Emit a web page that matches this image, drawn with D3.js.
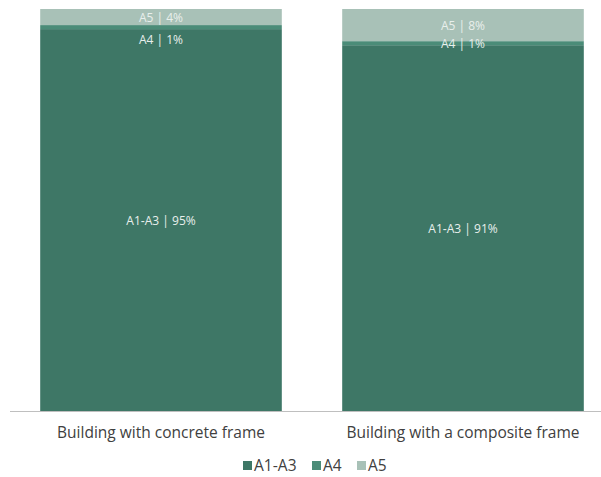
<!DOCTYPE html>
<html><head><meta charset="utf-8">
<script src="https://cdn.jsdelivr.net/npm/d3@7"></script>
<style>body{margin:0;background:#fff}svg{display:block}</style>
</head><body>
<svg id="c" width="601" height="477"></svg>
<script>
const categories = ["Building with concrete frame", "Building with a composite frame"];
const seriesNames = ["A1-A3", "A4", "A5"];
const seriesLabels = ["A1‐A3", "A4", "A5"];
const a1a3 = [95, 91];
const a4 = [1, 1];
const a5 = [4, 8];
const colors = ["#3e7766", "#4b8c78", "#a8c1b7"];

const svg = d3.select("#c");
const font = "'Open Sans', sans-serif";
const x = d3.scaleBand().domain(categories).range([10, 614]).paddingInner(0.2).paddingOuter(0.1);
const y = d3.scaleLinear().domain([0, 100]).range([411, 9]);

const rows = categories.map((c, i) => ({cat: c, "A1-A3": a1a3[i], "A4": a4[i], "A5": a5[i]}));
const stack = d3.stack().keys(seriesNames)(rows);

const g = svg.append("g");
stack.forEach((s, si) => {
  g.selectAll(null).data(s).enter().append("rect")
    .attr("x", d => x(d.data.cat))
    .attr("width", x.bandwidth())
    .attr("y", d => y(d[1]))
    .attr("height", d => y(d[0]) - y(d[1]))
    .attr("fill", colors[si]);
});

// labels: top-down, avoid collisions
categories.forEach((c, ci) => {
  let prev = -Infinity;
  for (let si = seriesNames.length - 1; si >= 0; si--) {
    const d = stack[si][ci];
    let cy = (y(d[0]) + y(d[1])) / 2 + 1;
    if (cy - prev < 16) cy = prev + 22;
    prev = cy;
    svg.append("text")
      .attr("x", x(c) + x.bandwidth() / 2)
      .attr("y", cy)
      .attr("dy", "0.35em")
      .attr("text-anchor", "middle")
      .attr("font-family", font)
      .attr("font-size", 12)
      .attr("fill", "#e8efec")
      .text(seriesLabels[si] + " | " + (d[1] - d[0]) + "%");
  }
});

// axis
const axis = svg.append("g").attr("transform", "translate(0,411)")
  .call(d3.axisBottom(x).tickSize(0).tickPadding(16));
axis.select(".domain").attr("stroke", "#bfbfbf").attr("d", "M10,0.5H601");
axis.selectAll("text").attr("font-family", font).attr("font-size", 15.5).attr("fill", "#404040");

// legend
const legendX = [243, 312, 357];
const lg = svg.append("g");
seriesNames.forEach((n, i) => {
  lg.append("rect").attr("x", legendX[i]).attr("y", 461).attr("width", 9).attr("height", 9).attr("fill", colors[i]);
  lg.append("text").attr("x", legendX[i] + 11).attr("y", 466).attr("dy", "0.35em")
    .attr("font-family", font).attr("font-size", 15.5).attr("fill", "#404040").text(seriesLabels[i]);
});
</script>
</body></html>
